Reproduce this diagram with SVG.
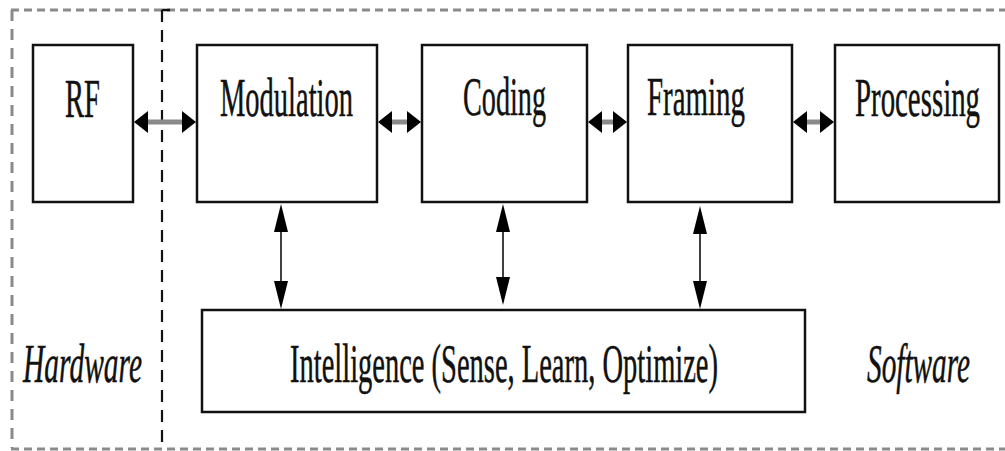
<svg xmlns="http://www.w3.org/2000/svg" width="1005" height="451" viewBox="0 0 1005 451">
  <style>
    .box { fill: #fff; stroke: #111; stroke-width: 2.5; }
    .lbl { font-family: "Liberation Serif", "Times New Roman", serif; font-size: 55px; fill: #111; stroke: #111; stroke-width: 0.5; }
    .it { font-style: italic; }
    .frame { fill: none; stroke: #8a8a8a; stroke-width: 3; }
    .shaft { stroke: #8a8a8a; stroke-width: 5; }
    .vline { stroke: #111; stroke-width: 1.6; }
    .head { fill: #000; }
  </style>

  <!-- dashed outline of the whole system -->
  <g id="frame">
    <line class="frame" x1="11" y1="10" x2="1005" y2="10" stroke-dasharray="8 5"/>
    <line class="frame" x1="12" y1="10" x2="12" y2="448" stroke-dasharray="11 8" stroke-width="2.5"/>
    <line class="frame" x1="11" y1="449" x2="1005" y2="449" stroke-dasharray="8 5"/>
    <!-- hardware / software split -->
    <line x1="162" y1="10" x2="162" y2="446" stroke="#111" stroke-width="2.2" stroke-dasharray="12 8"/>
    <line x1="162" y1="10" x2="170" y2="10" stroke="#111" stroke-width="2.5"/>
  </g>

  <!-- labels use a condensed serif: glyphs squeezed horizontally to 0.56 -->
  <g id="rf">
    <rect class="box" x="33" y="45" width="100" height="157"/>
    <g transform="translate(65,117) scale(0.56,1)">
      <text class="lbl" x="0" y="0" textLength="62.5" lengthAdjust="spacingAndGlyphs">RF</text>
    </g>
  </g>
  <g id="modulation">
    <rect class="box" x="197" y="45" width="180" height="157"/>
    <g transform="translate(220,116) scale(0.56,1)">
      <text class="lbl" x="0" y="0" textLength="237.5" lengthAdjust="spacingAndGlyphs">Modulation</text>
    </g>
  </g>
  <g id="coding">
    <rect class="box" x="422" y="45" width="165" height="157"/>
    <g transform="translate(463,115) scale(0.56,1)">
      <text class="lbl" x="0" y="0" textLength="148.2" lengthAdjust="spacingAndGlyphs">Coding</text>
    </g>
  </g>
  <g id="framing">
    <rect class="box" x="628" y="45" width="164" height="157"/>
    <g transform="translate(647,115) scale(0.56,1)">
      <text class="lbl" x="0" y="0" textLength="175" lengthAdjust="spacingAndGlyphs">Framing</text>
    </g>
  </g>
  <g id="processing">
    <rect class="box" x="835" y="45" width="164" height="157"/>
    <g transform="translate(855,116) scale(0.56,1)">
      <text class="lbl" x="0" y="0" textLength="223.2" lengthAdjust="spacingAndGlyphs">Processing</text>
    </g>
  </g>
  <g id="intelligence">
    <rect class="box" x="202" y="310" width="603" height="102"/>
    <g transform="translate(290,382) scale(0.56,1)">
      <text class="lbl" x="0" y="0" textLength="764.3" lengthAdjust="spacingAndGlyphs">Intelligence (Sense, Learn, Optimize)</text>
    </g>
  </g>

  <g id="domain-labels">
    <g transform="translate(23,382) scale(0.56,1)">
      <text class="lbl it" x="0" y="0" textLength="212.5" lengthAdjust="spacingAndGlyphs">Hardware</text>
    </g>
    <g transform="translate(867,382) scale(0.56,1)">
      <text class="lbl it" x="0" y="0" textLength="183.9" lengthAdjust="spacingAndGlyphs">Software</text>
    </g>
  </g>

  <g id="connectors">
    <!-- horizontal two-way links between pipeline stages -->
    <line class="shaft" x1="146" y1="122" x2="184" y2="122"/>
    <polygon class="head" points="134,122 148,111 148,133"/>
    <polygon class="head" points="196,122 182,111 182,133"/>

    <line class="shaft" x1="390" y1="122" x2="409" y2="122"/>
    <polygon class="head" points="378,122 392,111 392,133"/>
    <polygon class="head" points="421,122 407,111 407,133"/>

    <line class="shaft" x1="600" y1="122" x2="615" y2="122"/>
    <polygon class="head" points="588,122 602,111 602,133"/>
    <polygon class="head" points="627,122 613,111 613,133"/>

    <line class="shaft" x1="805" y1="122" x2="822" y2="122"/>
    <polygon class="head" points="793,122 807,111 807,133"/>
    <polygon class="head" points="834,122 820,111 820,133"/>

    <!-- vertical two-way links to the intelligence block -->
    <line class="vline" x1="281" y1="210" x2="281" y2="302"/>
    <polygon class="head" points="281,204 274,232 288,232"/>
    <polygon class="head" points="281,309 274,281 288,281"/>

    <line class="vline" x1="503" y1="210" x2="503" y2="302"/>
    <polygon class="head" points="503,204 496,232 510,232"/>
    <polygon class="head" points="503,305 496,277 510,277"/>

    <line class="vline" x1="700" y1="210" x2="700" y2="302"/>
    <polygon class="head" points="700,206 693,234 707,234"/>
    <polygon class="head" points="700,309 693,281 707,281"/>
  </g>
</svg>
